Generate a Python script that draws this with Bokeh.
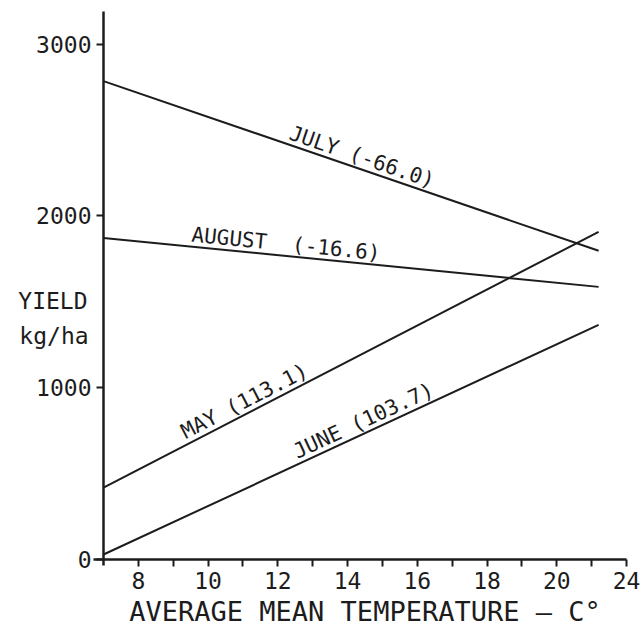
import math

from bokeh.plotting import figure
from bokeh.models import ColumnDataSource, Range1d, FixedTicker
from bokeh.core.properties import value
from bokeh.embed import file_html
from bokeh.resources import INLINE

# Fitted yield lines against monthly average mean temperature
months = ["JULY", "AUGUST", "MAY", "JUNE"]
coefficients = ["-66.0", "-16.6", "113.1", "103.7"]
label_gap = [" ", "\u00a0 ", " ", " "]
temp_start = [7.0, 7.0, 7.0, 7.0]
temp_end = [21.2, 21.2, 21.2, 21.2]
yield_start = [2785, 1872, 419, 29]
yield_end = [1797, 1587, 1907, 1366]
label_temp = [14.3, 12.2, 11.2, 14.6]

# Axis ticks (the last tick is lettered "24" on the original drawing)
x_tick_values = list(range(8, 23))
x_tick_text = ["8", "", "10", "", "12", "", "14", "", "16", "", "18", "", "20", "", "24"]
y_tick_values = [0, 1000, 2000, 3000]
y_title = ["YIELD", "kg/ha"]
y_title_yield = [1502, 1300]
x_title = "AVERAGE MEAN TEMPERATURE \u2013 C\u00b0"

# Plotting area: temperature 7-22 and yield 0-3190 fill a 523 x 548 px box;
# the canvas margins around it are part of the same data space so that the
# titles can be drawn as ordinary text.
X_MIN, X_MAX = 7, 22
Y_MIN, Y_MAX = 0, 3190
BOX_W, BOX_H = 523, 548
PAD_L, PAD_R, PAD_T, PAD_B = 103, 17, 11, 78
W, H = BOX_W + PAD_L + PAD_R, BOX_H + PAD_T + PAD_B

px_per_x = BOX_W / (X_MAX - X_MIN)
px_per_y = BOX_H / (Y_MAX - Y_MIN)

INK = "#1c1c1c"
FONT = "DejaVu Sans Mono"

p = figure(
    frame_width=W,
    frame_height=H,
    x_range=Range1d(X_MIN - PAD_L / px_per_x, X_MAX + PAD_R / px_per_x),
    y_range=Range1d(Y_MIN - PAD_B / px_per_y, Y_MAX + PAD_T / px_per_y),
    output_backend="svg",
    toolbar_location=None,
    min_border=0,
)
p.outline_line_color = None
p.grid.visible = False
p.background_fill_color = "white"
p.border_fill_color = "white"

# Regression lines
lines = ColumnDataSource(dict(x0=temp_start, y0=yield_start, x1=temp_end, y1=yield_end))
p.segment(x0="x0", y0="y0", x1="x1", y1="y1", source=lines, line_color=INK, line_width=2)

# Month labels laid along each line
angles, label_yield, texts = [], [], []
for m, g, c, x0, x1, y0, y1, t in zip(months, label_gap, coefficients, temp_start,
                                      temp_end, yield_start, yield_end, label_temp):
    angles.append(math.atan2((y1 - y0) * px_per_y, (x1 - x0) * px_per_x))
    label_yield.append(y0 + (y1 - y0) * (t - x0) / (x1 - x0))
    texts.append(f"{m}{g}({c})")

labels = ColumnDataSource(dict(x=label_temp, y=label_yield, text=texts, angle=angles))
p.text(x="x", y="y", text="text", angle="angle", source=labels,
       text_align="center", text_baseline="bottom",
       text_font=value(FONT), text_font_size="21px", text_color=INK)

# Horizontal y-axis title
p.text(x=[5.55, 5.58], y=y_title_yield, text=y_title,
       text_align="center", text_baseline="middle",
       text_font=value(FONT), text_font_size="23px", text_color=INK)

# x-axis title, centred under the temperature scale
p.text(x=[(X_MIN + X_MAX) / 2], y=[Y_MIN - 52 / px_per_y], text=[x_title],
       text_align="center", text_baseline="middle",
       text_font=value(FONT), text_font_size="27px", text_color=INK)

# Axes crossing at (7, 0)
xa = p.xaxis[0]
xa.fixed_location = Y_MIN
xa.bounds = (6.72, X_MAX)
xa.ticker = FixedTicker(ticks=x_tick_values, minor_ticks=[])
xa.major_label_overrides = {v: t for v, t in zip(x_tick_values, x_tick_text)}

ya = p.yaxis[0]
ya.fixed_location = X_MIN
ya.bounds = (-35, Y_MAX)
ya.ticker = FixedTicker(ticks=y_tick_values, minor_ticks=[])

for ax in (xa, ya):
    ax.axis_line_color = INK
    ax.axis_line_width = 2.5
    ax.major_tick_line_color = INK
    ax.major_tick_line_width = 2
    ax.major_tick_in = 0
    ax.major_tick_out = 7
    ax.minor_tick_line_color = None
    ax.major_label_text_font = FONT
    ax.major_label_text_font_size = "23px"
    ax.major_label_text_color = INK
    ax.major_label_standoff = 5

open("out.html", "w").write(file_html(p, INLINE))
